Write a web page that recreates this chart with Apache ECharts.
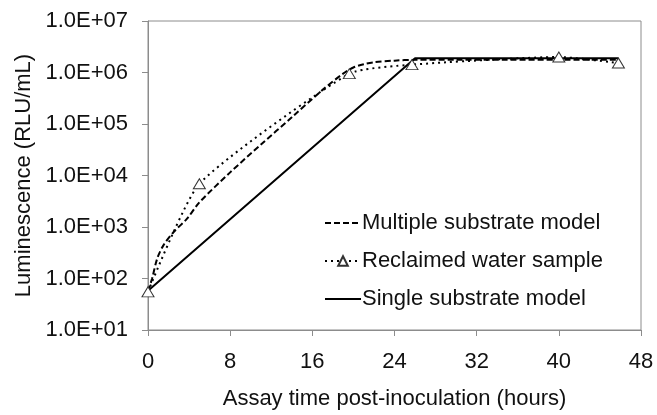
<!DOCTYPE html>
<html>
<head>
<meta charset="utf-8">
<script src="https://cdn.jsdelivr.net/npm/echarts@6/dist/echarts.min.js"></script>
<style>
html,body{margin:0;padding:0;background:#fff;}
#c{width:657px;height:415px;}
</style>
</head>
<body>
<div id="c"></div>
<script>
// ---- data ----
const seriesNames = ['Multiple substrate model', 'Reclaimed water sample', 'Single substrate model'];

const multiHours = [0, 0.4, 0.9, 1.5, 2.5, 3.8, 5, 8, 11, 14, 17, 19, 20, 21, 22, 24, 26, 30, 35, 40, 45.8];
const multiRLU   = [56, 100, 245, 440, 800, 1450, 3000, 1.15e4, 4.0e4, 1.35e5, 4.6e5, 9.5e5, 1.25e6, 1.45e6, 1.58e6, 1.7e6, 1.76e6, 1.76e6, 1.76e6, 1.76e6, 1.76e6];

const reclaimedHours = [0, 5, 19.6, 25.7, 40, 45.8];
const reclaimedRLU   = [55, 6900, 9.5e5, 1.42e6, 2.0e6, 1.53e6];

const singleHours = [0, 26, 45.8];
const singleRLU   = [58, 1.9e6, 1.9e6];

const xTickValues = [0, 8, 16, 24, 32, 40, 48];
const yTickLabels = ['1.0E+01', '1.0E+02', '1.0E+03', '1.0E+04', '1.0E+05', '1.0E+06', '1.0E+07'];

const xTitle = 'Assay time post-inoculation (hours)';
const yTitle = 'Luminescence (RLU/mL)';

// ---- chart ----
const FONT = '"Liberation Sans", Arial, sans-serif';
const pair = (xs, ys) => xs.map((x, i) => [x, ys[i]]);
const chart = echarts.init(document.getElementById('c'), null, {renderer: 'canvas'});

chart.setOption({
  animation: false,
  backgroundColor: '#fff',
  grid: {left: 148, top: 21, right: 16, bottom: 83, show: true, borderColor: '#8c8c8c', borderWidth: 1},
  legend: {
    orient: 'vertical', left: 319, top: 207,
    itemWidth: 36, itemHeight: 12, itemGap: 16,
    data: [
      {name: seriesNames[0], itemStyle: {opacity: 0}},
      {name: seriesNames[1]},
      {name: seriesNames[2], itemStyle: {opacity: 0}}
    ],
    textStyle: {fontFamily: FONT, fontSize: 22, color: '#111', padding: [0, 0, 0, -4]},
    selectedMode: false
  },
  xAxis: {
    type: 'value', min: xTickValues[0], max: xTickValues[xTickValues.length - 1], interval: 8,
    name: xTitle, nameLocation: 'middle', nameGap: 58,
    nameTextStyle: {fontFamily: FONT, fontSize: 22, color: '#111'},
    axisLine: {lineStyle: {color: '#8c8c8c', width: 1}},
    axisTick: {show: true, inside: false, length: 6, lineStyle: {color: '#8c8c8c'}},
    axisLabel: {fontFamily: FONT, fontSize: 22, color: '#111', margin: 21},
    splitLine: {show: false}
  },
  yAxis: {
    type: 'log', logBase: 10, min: 10, max: 1e7,
    name: yTitle, nameLocation: 'middle', nameGap: 112, nameRotate: 90,
    nameTextStyle: {fontFamily: FONT, fontSize: 22, color: '#111'},
    axisLine: {show: true, lineStyle: {color: '#8c8c8c', width: 1}},
    axisTick: {show: true, inside: false, length: 6, lineStyle: {color: '#8c8c8c'}},
    axisLabel: {
      fontFamily: FONT, fontSize: 22, color: '#111', margin: 20,
      formatter: v => yTickLabels[Math.round(Math.log10(v)) - 1]
    },
    splitLine: {show: false}
  },
  series: [
    {
      name: seriesNames[0], type: 'line', data: pair(multiHours, multiRLU),
      smooth: 0.3, symbol: 'none', z: 3,
      lineStyle: {color: '#000', width: 2, type: [6, 3]},
      itemStyle: {color: '#000'}
    },
    {
      name: seriesNames[1], type: 'line', data: pair(reclaimedHours, reclaimedRLU),
      smooth: 0.18, symbol: 'triangle', symbolSize: [12, 10], showSymbol: true, z: 4,
      lineStyle: {color: '#000', width: 2, type: [2, 4]},
      itemStyle: {color: '#fff', borderColor: '#333', borderWidth: 1}
    },
    {
      name: seriesNames[2], type: 'line', data: pair(singleHours, singleRLU),
      symbol: 'none', z: 2,
      lineStyle: {color: '#000', width: 2, type: 'solid'},
      itemStyle: {color: '#000'}
    }
  ]
});
</script>
</body>
</html>
